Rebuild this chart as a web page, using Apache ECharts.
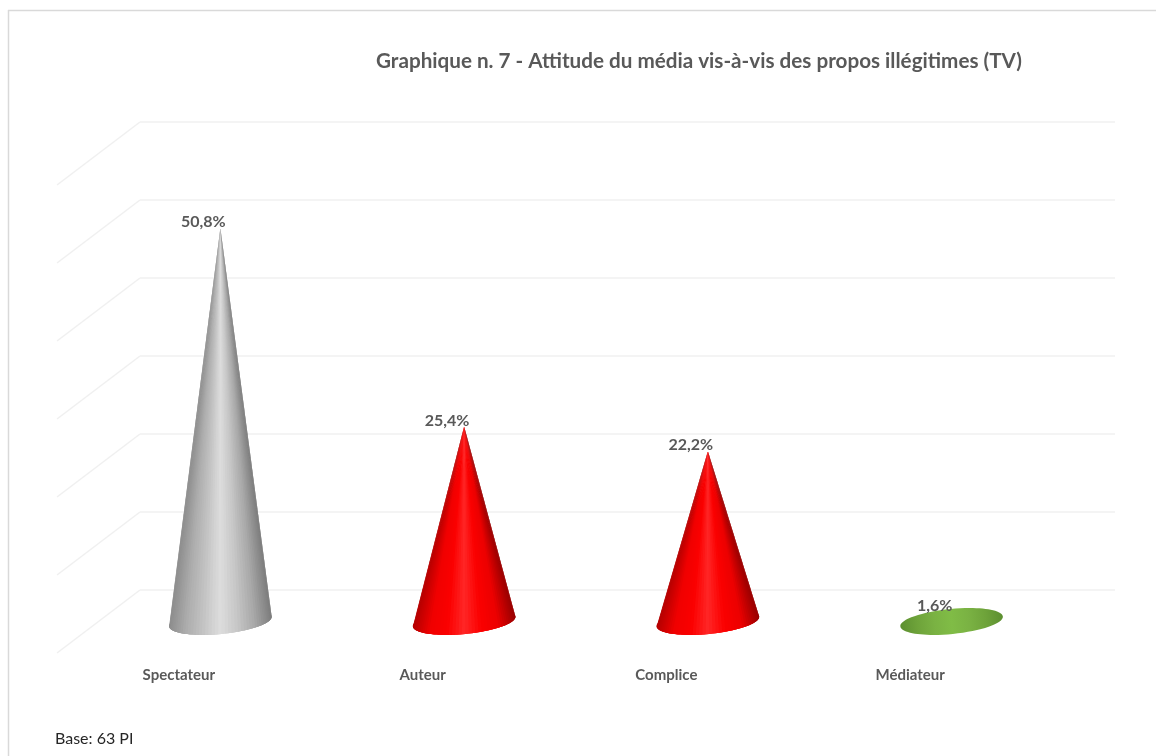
<!DOCTYPE html>
<html>
<head>
<meta charset="utf-8">
<title>Graphique n. 7</title>
<script src="https://cdn.jsdelivr.net/npm/echarts@6/dist/echarts.min.js"></script>
<style>
  html, body { margin: 0; padding: 0; background: #fff; }
  #chart { width: 1156px; height: 756px; }
</style>
</head>
<body>
<div id="chart"></div>
<script>
const categories = ['Spectateur', 'Auteur', 'Complice', 'Médiateur'];
const values = [50.8, 25.4, 22.2, 1.6];
const valueLabels = ['50,8%', '25,4%', '22,2%', '1,6%'];
const wallTicks = [0, 10, 20, 30, 40, 50, 60];

// shades across each cone, left to right
const grey = ['#8c8c8c', '#adadad', '#c4c4c4', '#dddddd', '#c6c6c6', '#a8a8a8', '#7c7c7c'];
const red = ['#b40000', '#f00000', '#fb0000', '#ff2626', '#fb0000', '#ec0000', '#980000'];
const green = ['#5c8f30', '#6ea33a', '#7ab243', '#80bc46', '#7ab243', '#6ea33a', '#5c8f30'];
const shades = [grey, red, red, green];

const textColor = '#595959';
const fontFamily = 'Lato, "Open Sans", sans-serif';

// fake 3D: the back wall sits this far from the front plane, cones stand halfway
const depthX = 83;
const depthY = 63;
const baseRx = 51.5;
const baseRy = 12.5;
const tilt = -5.5 * Math.PI / 180;
const tipDrop = 3;
const strips = 48;

function renderCone(params, api) {
  const i = api.value(0);
  const front = api.coord([i, 0]);
  const top = api.coord([i, api.value(1)]);
  const cx = front[0] + depthX / 2;
  const cy = front[1] - depthY / 2;
  const tipY = top[1] - depthY / 2 + tipDrop;
  const cosT = Math.cos(tilt);
  const sinT = Math.sin(tilt);
  const c = shades[i];

  // point on the tilted base ellipse, a = PI is the left end, a = 0 the right end
  const onBase = function (a) {
    const ex = baseRx * Math.cos(a);
    const ey = baseRy * Math.sin(a);
    return [cx + ex * cosT - ey * sinT, cy + ex * sinT + ey * cosT];
  };

  const children = [{
    type: 'ellipse',
    x: cx,
    y: cy,
    rotation: -tilt,
    shape: { cx: 0, cy: 0, rx: baseRx, ry: baseRy },
    style: {
      fill: new echarts.graphic.LinearGradient(0, 0, 1, 0, c.map((col, k) => ({ offset: k / (c.length - 1), color: col })))
    }
  }];

  // the shading has to narrow towards the tip, so the cone is a fan of thin strips.
  // each strip reaches under the next one so no seams show.
  // a very flat cone is only its base disc
  if (tipY < cy - 2 * baseRy) {
    for (let k = 0; k < strips; k++) {
      const p1 = onBase(Math.PI - Math.PI * k / strips);
      const p2 = onBase(Math.PI - Math.PI * (k + 1) / strips);
      const p3 = onBase(Math.PI - Math.PI * Math.min(k + 2, strips) / strips);
      const shade = echarts.color.lerp((p1[0] + p2[0] - 2 * cx + 2 * baseRx) / (4 * baseRx), c);
      children.push({
        type: 'polygon',
        shape: { points: [[cx, tipY], p1, p2, p3] },
        style: { fill: shade }
      });
    }
  }

  children.push({
    type: 'text',
    x: cx - 17,
    y: tipY - 6,
    style: {
      text: valueLabels[i],
      fill: textColor,
      font: 'bold 16px ' + fontFamily,
      align: 'center',
      verticalAlign: 'middle'
    }
  });
  return { type: 'group', children: children };
}

function renderWall(params, api) {
  const p = api.coord([0, api.value(0)]);
  const x = params.coordSys.x;
  return {
    type: 'line',
    shape: { x1: x, y1: p[1], x2: x + depthX, y2: p[1] - depthY },
    style: { stroke: '#f0f0f0', lineWidth: 1.5 }
  };
}

const chart = echarts.init(document.getElementById('chart'), null, { renderer: 'canvas' });
chart.setOption({
  animation: false,
  backgroundColor: '#fff',
  title: [
    {
      text: 'Graphique n. 7 - Attitude du média vis-à-vis des propos illégitimes (TV)',
      left: 371,
      top: 46,
      textStyle: { color: textColor, fontSize: 20.66, fontWeight: 'bold', fontFamily: fontFamily }
    },
    {
      text: 'Base: 63 PI',
      left: 50,
      top: 726,
      textStyle: { color: '#262626', fontSize: 16, fontWeight: 'normal', fontFamily: fontFamily }
    }
  ],
  grid: [
    { left: 57, top: 185, width: 975, height: 468 },   // front plane
    { left: 140, top: 122, width: 975, height: 468 }   // back wall
  ],
  xAxis: [
    {
      type: 'category',
      gridIndex: 0,
      data: categories,
      axisLine: { show: false },
      axisTick: { show: false },
      axisLabel: { margin: 15, color: textColor, fontSize: 15, fontWeight: 'bold', fontFamily: fontFamily }
    },
    { type: 'category', gridIndex: 1, data: categories, show: false }
  ],
  yAxis: [
    { type: 'value', gridIndex: 0, min: 0, max: 60, interval: 10, show: false },
    {
      type: 'value',
      gridIndex: 1,
      min: 0,
      max: 60,
      interval: 10,
      axisLine: { show: false },
      axisTick: { show: false },
      axisLabel: { show: false },
      splitLine: { lineStyle: { color: '#f0f0f0', width: 1.5 } }
    }
  ],
  graphic: [
    { type: 'line', shape: { x1: 8.5, y1: 10, x2: 8.5, y2: 756 }, style: { stroke: '#d9d9d9', lineWidth: 1.5 } },
    { type: 'line', shape: { x1: 8, y1: 10.5, x2: 1156, y2: 10.5 }, style: { stroke: '#d9d9d9', lineWidth: 1.5 } }
  ],
  series: [
    {
      type: 'custom',
      xAxisIndex: 0,
      yAxisIndex: 0,
      silent: true,
      renderItem: renderWall,
      data: wallTicks.map(v => [v])
    },
    {
      type: 'custom',
      xAxisIndex: 0,
      yAxisIndex: 0,
      silent: true,
      renderItem: renderCone,
      data: values.map((v, i) => [i, v])
    }
  ]
});
</script>
</body>
</html>
